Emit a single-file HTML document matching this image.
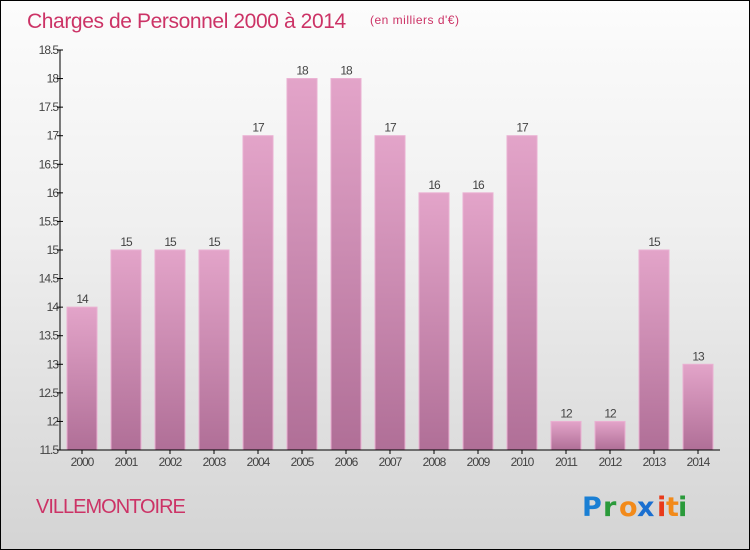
<!DOCTYPE html>
<html><head><meta charset="utf-8"><style>
body{margin:0;}
#c{width:750px;height:550px;position:relative;box-sizing:border-box;border:1px solid #000;background:linear-gradient(#fcfcfc,#f0f0f0 40%,#d4d4d4);font-family:"Liberation Sans",sans-serif;overflow:hidden}
</style></head><body>
<div id="c">
<svg width="750" height="550" style="position:absolute;left:-1px;top:-1px">
<defs><linearGradient id="bg" x1="0" y1="0" x2="0" y2="1"><stop offset="0" stop-color="#e3a4c9"/><stop offset="1" stop-color="#b06f97"/></linearGradient></defs>
<text x="27" y="28" font-size="21" fill="#cc3366" letter-spacing="-0.4">Charges de Personnel 2000 à 2014</text>
<text x="370" y="24" font-size="12" fill="#cc3366" letter-spacing="0.5">(en milliers d'€)</text>
<g id="plot"></g>
<text x="36" y="513" font-size="20" fill="#cc3366" letter-spacing="-1">VILLEMONTOIRE</text>
<g font-size="27" font-family="'DejaVu Sans',sans-serif" font-weight="bold">
<text x="582" y="516" fill="#1a7fd4">P</text><text x="603" y="516" fill="#2a9a3a">r</text><text x="619" y="516" fill="#f28a1a">o</text><text x="637" y="516" fill="#1a6fd0">x</text><text x="657" y="516" fill="#e83a1a">i</text><text x="666" y="516" fill="#f28a1a">t</text><text x="678" y="516" fill="#2a9a3a">i</text>
</g>
</svg>
</div>
<script>
const categories=["2000","2001","2002","2003","2004","2005","2006","2007","2008","2009","2010","2011","2012","2013","2014"];
const values=[14,15,15,15,17,18,18,17,16,16,17,12,12,15,13];
const yTicks=[11.5,12,12.5,13,13.5,14,14.5,15,15.5,16,16.5,17,17.5,18,18.5];
const NS="http://www.w3.org/2000/svg";
const g=document.getElementById('plot');
const x0=60,x1=720,yTop=50,yBot=450,yMin=11.5,yMax=18.5;
const band=(x1-x0)/categories.length;
const y=v=>yBot-(v-yMin)/(yMax-yMin)*(yBot-yTop);
function mk(t,a,p){const e=document.createElementNS(NS,t);for(const k in a)e.setAttribute(k,a[k]);(p||g).appendChild(e);return e;}
values.forEach((v,i)=>{
 const bx=x0+i*band+7;
 const r=mk('rect',{x:bx,y:y(v),width:30,height:yBot-y(v),fill:'url(#bg)',stroke:'#eab0d2','stroke-width':1});
 
 
 const t=mk('text',{x:bx+15,y:y(v)-4,'font-size':12,fill:'#444','text-anchor':'middle','letter-spacing':'-1'});
 t.textContent=v;
 
 
 const xl=mk('text',{x:bx+15,y:yBot+16,'font-size':12,fill:'#444','text-anchor':'middle','letter-spacing':'-1'});
 xl.textContent=categories[i];
 
 
 const tk=mk('line',{x1:bx+15,x2:bx+15,y1:yBot,y2:yBot+4,stroke:'#000'});
 
 
});
yTicks.forEach(v=>{
 const t=mk('text',{x:x0-2,y:y(v)+4,'font-size':12,fill:'#444','text-anchor':'end','letter-spacing':'-1'});
 t.textContent=v;
 
 
 const l=mk('line',{x1:x0-3,x2:x0+3,y1:y(v),y2:y(v),stroke:'#000'});
 
 
});
const ya=mk('line',{x1:x0,x2:x0,y1:yTop,y2:yBot,stroke:'#000','stroke-width':1});


const xa=mk('line',{x1:x0,x2:x1,y1:yBot,y2:yBot,stroke:'#000','stroke-width':1});


</script>
</body></html>
